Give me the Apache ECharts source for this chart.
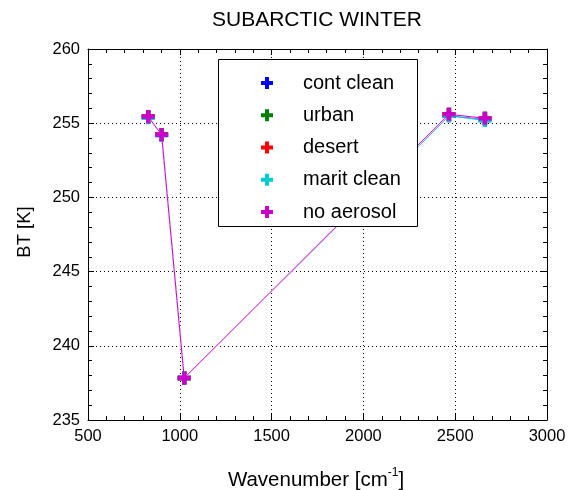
<!DOCTYPE html>
<html><head><meta charset="utf-8">
<script src="https://cdn.jsdelivr.net/npm/echarts@6/dist/echarts.min.js"></script>
<style>html,body{margin:0;padding:0;background:#fff}#c{width:573px;height:490px}</style>
</head><body><div id="c"></div>
<script>
var wavenumbers = [828, 901, 1024, 2466, 2662];
var contClean  = [255.44, 254.22, 237.83, 255.50, 255.28];
var urban      = [255.44, 254.22, 237.83, 255.60, 255.33];
var desert     = [255.44, 254.22, 237.83, 255.60, 255.33];
var maritClean = [255.36, 254.18, 237.83, 255.50, 255.18];
var noAerosol  = [255.44, 254.22, 237.83, 255.60, 255.33];
var seriesNames = ['cont clean', 'urban', 'desert', 'marit clean', 'no aerosol'];
var seriesColors = ['#0000ff', '#008000', '#ff0000', '#00cccc', '#cc00cc'];
var xTicks = [500, 1000, 1500, 2000, 2500, 3000];
var yTicks = [235, 240, 245, 250, 255, 260];

var FONT = 'Liberation Sans, Arial, sans-serif';
var PLUS = 'path://M4,0H8V4H12V8H8V12H4V8H0V4H4Z';
var allValues = [contClean, urban, desert, maritClean, noAerosol];

function axisBase(isX, showLabels, pos) {
  var ticks = isX ? xTicks : yTicks;
  return {
    type: 'value', position: pos,
    min: ticks[0], max: ticks[ticks.length - 1], interval: ticks[1] - ticks[0],
    axisLine: { show: true, onZero: false, lineStyle: { color: '#000', width: 1 } },
    axisTick: { show: true, inside: true, length: 6, lineStyle: { color: '#000' } },
    minorTick: { show: true, splitNumber: 5, length: 4, lineStyle: { color: '#000' } },
    axisLabel: { show: showLabels, color: '#000', fontSize: 16.5, fontFamily: FONT, margin: 8,
      formatter: function (v) { return String(v); } },
    splitLine: { show: showLabels, lineStyle: { color: '#000', type: [1, 3], width: 1 } },
    minorSplitLine: { show: false }
  };
}

function toPoints(vals) {
  return wavenumbers.map(function (w, j) { return [w, vals[j]]; });
}

var series = [];
seriesNames.forEach(function (name, i) {
  if (i === seriesNames.length - 1) {
    // white underlay so the top line is not tinted by identical lines beneath it
    series.push({
      name: '_underlay', type: 'line', data: toPoints(allValues[i]),
      symbol: 'none', lineStyle: { color: '#fff', width: 2 }, z: 2 + i, silent: true, animation: false
    });
  }
  series.push({
    name: name, type: 'line',
    data: toPoints(allValues[i]),
    symbol: PLUS, symbolSize: 13, showSymbol: true,
    lineStyle: { color: seriesColors[i], width: 1 },
    itemStyle: { color: seriesColors[i] },
    z: 3 + i, animation: false
  });
});

var chart = echarts.init(document.getElementById('c'), null, { renderer: 'canvas' });
chart.setOption({
  animation: false,
  backgroundColor: '#fff',
  grid: { left: 88, right: 26, top: 49, bottom: 70, show: false },
  xAxis: [axisBase(true, true, 'bottom'), axisBase(true, false, 'top')],
  yAxis: [axisBase(false, true, 'left'), axisBase(false, false, 'right')],
  legend: {
    orient: 'vertical', left: 256, top: 68,
    itemWidth: 12, itemHeight: 12, itemGap: 12.25,
    icon: PLUS, z: 30,
    textStyle: { color: '#000', fontSize: 20, fontFamily: FONT, lineHeight: 20, padding: [0, 0, 0, 25] },
    data: seriesNames
  },
  graphic: [
    { type: 'rect', z: 20, shape: { x: 218.5, y: 59.5, width: 199, height: 167 },
      style: { fill: '#fff', stroke: '#000', lineWidth: 1 } },
    { type: 'text', x: 317, y: 20, z: 20,
      style: { text: 'SUBARCTIC WINTER', fill: '#000', font: '21px ' + FONT, align: 'center', verticalAlign: 'middle' } },
    { type: 'text', x: 25, y: 232, rotation: Math.PI / 2, z: 20,
      style: { text: 'BT [K]', fill: '#000', font: '18.5px ' + FONT, align: 'center', verticalAlign: 'middle' } },
    { type: 'text', x: 316, y: 480, z: 20,
      style: { text: '{a|Wavenumber [cm}{s|-1}{a|]}', align: 'center', verticalAlign: 'middle',
        rich: { a: { fill: '#000', fontSize: 20.5, fontFamily: FONT },
                s: { fill: '#000', fontSize: 12, fontFamily: FONT, padding: [0, 0, 14, 0] } } } }
  ],
  series: series
});
</script></body></html>
